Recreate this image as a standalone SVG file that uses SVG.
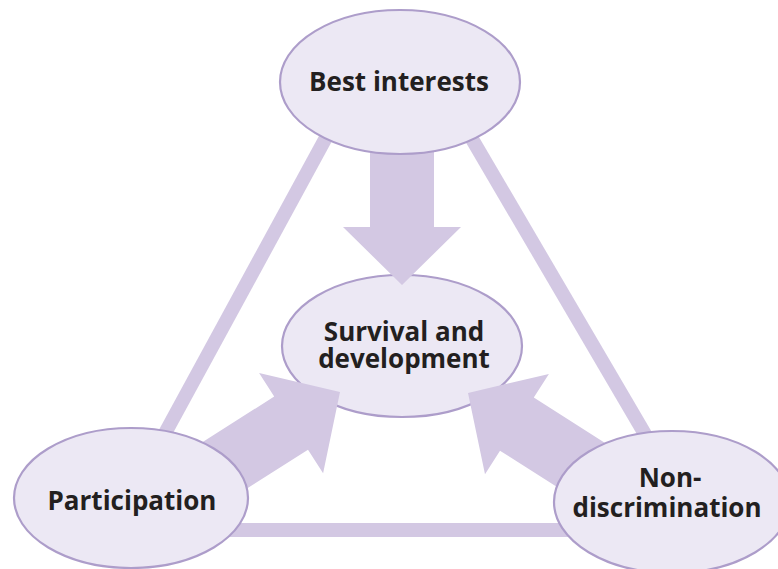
<svg xmlns="http://www.w3.org/2000/svg" width="778" height="569" viewBox="0 0 778 569">
  <style>
    .bubble { fill: #ece8f4; stroke: #ad9dca; stroke-width: 2.2; }
    .label { font-family: "Open Sans", "Liberation Sans", sans-serif; font-weight: 700; font-size: 26px; fill: #231f20; text-anchor: middle; }
    .edge { stroke: #d3c8e3; stroke-width: 14; fill: none; }
    .arrow { fill: #d3c8e3; stroke: none; }
  </style>

  <!-- central principle, drawn first so the arrow tips overlap its rim -->
  <g id="survival">
    <ellipse class="bubble" cx="402" cy="346" rx="120" ry="71"/>
  </g>

  <g id="connectors">
    <!-- triangle frame linking the three outer principles -->
    <line class="edge" x1="341" y1="110" x2="145" y2="470"/>
    <line class="edge" x1="455" y1="110" x2="666" y2="470"/>
    <line class="edge" x1="200" y1="530" x2="600" y2="530"/>
    <!-- block arrows pointing into the centre -->
    <polygon class="arrow" points="370,120 434,120 434,227 461,227 402,285 343,227 370,227"/>
    <polygon class="arrow" points="147.8,477.1 274.2,396.5 259.1,372.9 340,392 323.1,473.3 308,449.7 181.6,530.1"/>
    <polygon class="arrow" points="660.3,478.2 533.8,397.6 548.9,373.9 468,393 485,474.3 500,450.7 626.5,531.2"/>
  </g>

  <g id="survival-label">
    <text class="label" x="404" y="341">Survival and</text>
    <text class="label" x="404" y="368">development</text>
  </g>

  <g id="best-interests">
    <ellipse class="bubble" cx="400" cy="82" rx="120" ry="72"/>
    <text class="label" x="399" y="91">Best interests</text>
  </g>

  <g id="participation">
    <ellipse class="bubble" cx="131" cy="498" rx="117" ry="70"/>
    <text class="label" x="132" y="510">Participation</text>
  </g>

  <g id="non-discrimination">
    <ellipse class="bubble" cx="672" cy="502" rx="118" ry="71"/>
    <text class="label" x="670" y="487">Non-</text>
    <text class="label" x="667" y="517">discrimination</text>
  </g>
</svg>
